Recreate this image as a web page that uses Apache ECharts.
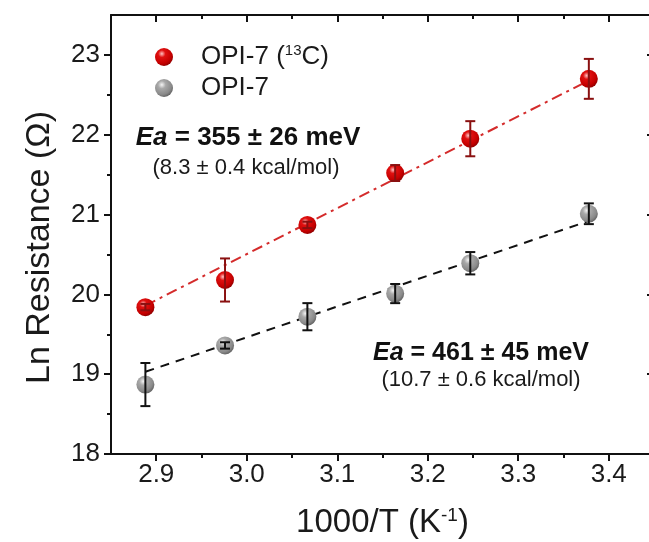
<!DOCTYPE html>
<html><head><meta charset="utf-8">
<script src="https://cdn.jsdelivr.net/npm/echarts@6/dist/echarts.min.js"></script>
<style>html,body{margin:0;padding:0;background:#fff}#c{width:649px;height:542px}</style>
</head><body><div id="c"></div>
<script>
// ---- data ----
const xValues = [2.888, 2.976, 3.067, 3.164, 3.247, 3.378];
const c13Values = [19.84, 20.18, 20.87, 21.52, 21.95, 22.70];
const c13Errors = [0.04, 0.27, 0.04, 0.10, 0.22, 0.25];
const opiValues = [18.87, 19.36, 19.72, 20.01, 20.39, 21.01];
const opiErrors = [0.27, 0.04, 0.17, 0.12, 0.14, 0.13];
const c13FitX = [2.888, 3.378];
const c13FitY = [19.86, 22.68];
const opiFitX = [2.888, 3.378];
const opiFitY = [19.03, 20.92];
const xTicks = [2.9, 3.0, 3.1, 3.2, 3.3, 3.4];
const xMinorTicks = [2.95, 3.05, 3.15, 3.25, 3.35];
const yTicks = [18, 19, 20, 21, 22, 23];
const yMinorTicks = [18.5, 19.5, 20.5, 21.5, 22.5];
const seriesNames = ['OPI-7 (13C)', 'OPI-7'];
const annotC13 = ['Ea', ' = 355 ± 26 meV', '(8.3 ± 0.4 kcal/mol)'];
const annotOpi = ['Ea', ' = 461 ± 45 meV', '(10.7 ± 0.6 kcal/mol)'];

const FONT = '"Liberation Sans", Arial, sans-serif';
const X_MIN = 2.85, X_MAX = 3.45, Y_MIN = 18, Y_MAX = 23.5;

const redBall = {type:'radial', x:0.38, y:0.32, r:0.72, colorStops:[
  {offset:0, color:'#ffc4c4'}, {offset:0.28, color:'#e01010'}, {offset:0.75, color:'#c40000'}, {offset:1, color:'#8a0000'}]};
const grayBall = {type:'radial', x:0.38, y:0.32, r:0.72, colorStops:[
  {offset:0, color:'#f4f4f4'}, {offset:0.3, color:'#a8a8a8'}, {offset:0.75, color:'#8a8a8a'}, {offset:1, color:'#5e5e5e'}]};

function errRender(color) {
  return function (params, api) {
    const x = api.value(0), y = api.value(1), e = api.value(2);
    const t = api.coord([x, y + e]), b = api.coord([x, y - e]);
    const hw = 5;
    const st = {stroke: color, lineWidth: 2};
    return {type:'group', children:[
      {type:'line', shape:{x1:t[0], y1:t[1], x2:b[0], y2:b[1]}, style:st},
      {type:'line', shape:{x1:t[0]-hw, y1:t[1], x2:t[0]+hw, y2:t[1]}, style:st},
      {type:'line', shape:{x1:b[0]-hw, y1:b[1], x2:b[0]+hw, y2:b[1]}, style:st}
    ]};
  };
}

function xAx(pos, vals, major, inside, showLine, showLabel) {
  return {
    type:'value', position:pos, min:X_MIN, max:X_MAX, scale:true,
    axisLine:{show:showLine, onZero:false, lineStyle:{color:'#111', width:2}},
    axisTick:{show:true, inside:inside, length: major ? 7 : 4, customValues: vals, lineStyle:{color:'#111', width:2}},
    axisLabel:{show:showLabel, customValues: vals, margin:8, fontSize:26, color:'#1a1a1a', fontFamily:FONT,
      formatter: v => v.toFixed(1)},
    splitLine:{show:false}
  };
}
function yAx(pos, vals, major, inside, showLine, showLabel) {
  return {
    type:'value', position:pos, min:Y_MIN, max:Y_MAX,
    axisLine:{show:showLine, onZero:false, lineStyle:{color:'#111', width:2}},
    axisTick:{show:true, inside:inside, length: major ? 7 : 4, customValues: vals, lineStyle:{color:'#111', width:2}},
    axisLabel:{show:showLabel, customValues: vals, margin:11, fontSize:26, color:'#1a1a1a', fontFamily:FONT},
    splitLine:{show:false}
  };
}

const xAxes = [
  xAx('bottom', xTicks, true, false, true, true),
  xAx('bottom', xMinorTicks, false, false, false, false),
  xAx('top', xTicks, true, true, true, false),
  xAx('top', xMinorTicks, false, true, false, false)
];
xAxes[0].name = '1000/T (K{s|-1})';
xAxes[0].nameLocation = 'middle';
xAxes[0].nameGap = 52;
xAxes[0].nameTextStyle = {fontSize:33, color:'#1a1a1a', fontFamily:FONT,
  rich:{s:{fontSize:19, verticalAlign:'top', fontFamily:FONT, color:'#1a1a1a', padding:[0,0,15,0]}}};

const yAxes = [
  yAx('left', yTicks, true, false, true, true),
  yAx('left', yMinorTicks, false, false, false, false),
  yAx('right', yTicks, true, true, true, false),
  yAx('right', yMinorTicks, false, true, false, false)
];
yAxes[0].name = 'Ln Resistance (Ω)';
yAxes[0].nameLocation = 'middle';
yAxes[0].nameGap = 54;
yAxes[0].nameTextStyle = {fontSize:34, color:'#1a1a1a', fontFamily:FONT, padding:[0,26,0,0]};

const chart = echarts.init(document.getElementById('c'), null, {renderer:'canvas'});
chart.setOption({
  backgroundColor:'#fff',
  animation:false,
  grid:{left:111, top:15, width:543, height:439, containLabel:false, outerBoundsMode:'none'},
  xAxis: xAxes,
  yAxis: yAxes,
  legend:{
    data: seriesNames, orient:'vertical', left:155, top:43, padding:0, itemGap:5,
    itemWidth:18, itemHeight:18, selectedMode:false, icon:'circle',
    formatter: n => n === seriesNames[0] ? '{t|OPI-7 (}{s|13}{t|C)}' : '{t|OPI-7}',
    textStyle:{padding:[0,0,0,23], fontFamily:FONT, color:'#1a1a1a',
      rich:{t:{fontSize:26, fontFamily:FONT, color:'#1a1a1a', lineHeight:28},
            s:{fontSize:15, fontFamily:FONT, color:'#1a1a1a', verticalAlign:'top', lineHeight:15, padding:[0,0,10,0]}}}
  },
  graphic:[
    {type:'text', x:248, y:138, z:10, style:{text:'{i|'+annotC13[0]+'}{b|'+annotC13[1]+'}', align:'center', verticalAlign:'middle',
      rich:{i:{fontSize:26, fontWeight:'bold', fontStyle:'italic', fontFamily:FONT, fill:'#111'},
            b:{fontSize:26, fontWeight:'bold', fontFamily:FONT, fill:'#111'}}}},
    {type:'text', x:246, y:168, z:10, style:{text:annotC13[2], align:'center', verticalAlign:'middle', fontSize:22, fontFamily:FONT, fill:'#1a1a1a'}},
    {type:'text', x:481, y:353, z:10, style:{text:'{i|'+annotOpi[0]+'}{b|'+annotOpi[1]+'}', align:'center', verticalAlign:'middle',
      rich:{i:{fontSize:25, fontWeight:'bold', fontStyle:'italic', fontFamily:FONT, fill:'#111'},
            b:{fontSize:25, fontWeight:'bold', fontFamily:FONT, fill:'#111'}}}},
    {type:'text', x:481, y:380, z:10, style:{text:annotOpi[2], align:'center', verticalAlign:'middle', fontSize:22, fontFamily:FONT, fill:'#1a1a1a'}}
  ],
  series:[
    {type:'line', name:'fit13C', data: c13FitX.map((x,i)=>[x, c13FitY[i]]), showSymbol:false, z:1,
      lineStyle:{color:'#d42b2b', width:2, type:[11,5,3,5]}, silent:true},
    {type:'line', name:'fitOPI', data: opiFitX.map((x,i)=>[x, opiFitY[i]]), showSymbol:false, z:1,
      lineStyle:{color:'#111', width:2, type:[9,7]}, silent:true},
    {type:'scatter', name:seriesNames[0], data: xValues.map((x,i)=>[x, c13Values[i]]), symbolSize:18, z:2,
      itemStyle:{color:redBall, opacity:1}},
    {type:'scatter', name:seriesNames[1], data: xValues.map((x,i)=>[x, opiValues[i]]), symbolSize:18, z:2,
      itemStyle:{color:grayBall, opacity:1}},
    {type:'custom', name:'err13C', data: xValues.map((x,i)=>[x, c13Values[i], c13Errors[i]]), z:3,
      encode:{x:0, y:1}, renderItem: errRender('#8a1010'), silent:true},
    {type:'custom', name:'errOPI', data: xValues.map((x,i)=>[x, opiValues[i], opiErrors[i]]), z:3,
      encode:{x:0, y:1}, renderItem: errRender('#111'), silent:true}
  ]
});
</script></body></html>
